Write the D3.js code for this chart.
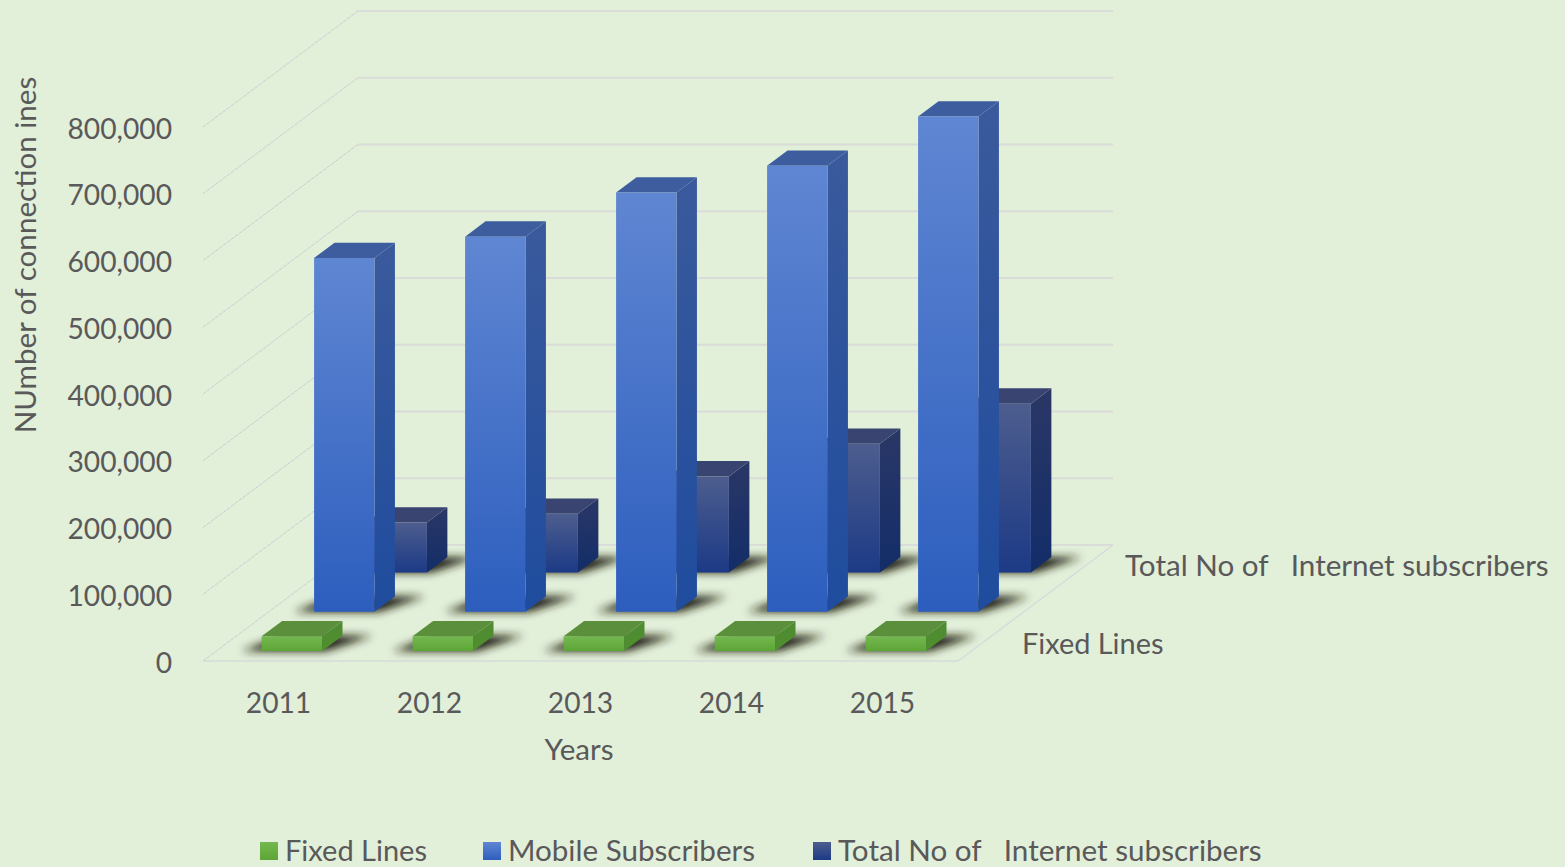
<!DOCTYPE html>
<html>
<head>
<meta charset="utf-8">
<script src="https://cdn.jsdelivr.net/npm/d3@7"></script>
<style>
  html, body { margin: 0; padding: 0; background: #e2efd9; overflow: hidden; }
  text { font-family: Lato, "Open Sans", sans-serif; fill: #595959; }
</style>
</head>
<body>
<svg id="chart" width="1565" height="867"></svg>
<script>
const years = ["2011", "2012", "2013", "2014", "2015"]
const seriesNames = ["Fixed Lines", "Mobile Subscribers", "Total No of   Internet subscribers"]
const fixedLines = [22000, 22000, 22000, 22000, 22000]
const mobileSubscribers = [530000, 562000, 628000, 668000, 742000]
const internetSubscribers = [75000, 88000, 144000, 193000, 253000]
const yTicks = [0, 100000, 200000, 300000, 400000, 500000, 600000, 700000, 800000]
const depthLabels = ["Fixed Lines", "Total No of   Internet subscribers"]

const seriesValues = [fixedLines, mobileSubscribers, internetSubscribers]
const tickFont = 28.2
const labelFont = 29.6

const svg = d3.select('#chart')
const defs = svg.append('defs')

// front plane scales
const x = d3.scaleBand().domain(years).range([203, 958]).paddingInner(0.6).paddingOuter(0.3)
const y = d3.scaleLinear().domain([0, 800000]).range([661, 127])

// depth goes from the front of the floor (0) to the back wall (1)
const depth = d3.scaleBand().domain(seriesNames).range([0, 1]).paddingInner(0.61).paddingOuter(0.283).align(0.45)
const depthX = d3.scaleLinear().domain([0, 1]).range([0, 155])
const depthY = d3.scaleLinear().domain([0, 1]).range([0, -116])

const project = (px, value, d) => [px + depthX(d), y(value) + depthY(d)]
const line = d3.line()

// gradients, one per face and series
const faceColors = {
  fixed: { front: ['#74b84f', '#5da536'], side: ['#4f8b33', '#4f8f2e'], top: ['#5b8f3c', '#5b8f3c'] },
  mobile: { front: ['#5f86d2', '#2d5ebe'], side: ['#3a5a9c', '#1f4c9e'], top: ['#3d5d9f', '#3d5d9f'] },
  internet: { front: ['#4d5d8e', '#1c3a86'], side: ['#2a3766', '#132d69'], top: ['#394470', '#394470'] }
}
const seriesKeys = ['fixed', 'mobile', 'internet']

seriesKeys.forEach(k => {
  ['front', 'side', 'top'].forEach(face => {
    const g = defs.append('linearGradient')
      .attr('id', k + '-' + face)
      .attr('x1', 0).attr('y1', 0).attr('x2', 0).attr('y2', 1)
    g.append('stop').attr('offset', '0%').attr('stop-color', faceColors[k][face][0])
    g.append('stop').attr('offset', '100%').attr('stop-color', faceColors[k][face][1])
  })
})

defs.append('filter').attr('id', 'soft')
  .attr('x', '-30%').attr('y', '-60%').attr('width', '160%').attr('height', '220%')
  .append('feGaussianBlur').attr('stdDeviation', 4)

// walls and floor gridlines
const grid = svg.append('g').attr('fill', 'none')

grid.selectAll('.side-line')
  .data(yTicks)
  .enter()
  .append('path')
  .attr('class', 'side-line')
  .attr('d', v => line([project(203, v, 0), project(203, v, 1)]))
  .attr('stroke', '#c4cfd6')
  .attr('stroke-dasharray', '4 1')
  .attr('stroke-width', 1)

grid.selectAll('.back-line')
  .data(yTicks)
  .enter()
  .append('path')
  .attr('class', 'back-line')
  .attr('d', v => line([project(203, v, 1), project(958, v, 1)]))
  .attr('stroke', '#d9dcd8')
  .attr('stroke-width', 2)

grid.append('path')
  .attr('d', line([project(203, 0, 0), project(958, 0, 0), project(958, 0, 1)]))
  .attr('stroke', '#d6dcd8')
  .attr('stroke-width', 1.5)

// bars from back to front so nearer ones cover the others
const bars = svg.append('g')

d3.range(seriesNames.length - 1, -1, -1).forEach(s => {
  const d0 = depth(seriesNames[s])
  const d1 = d0 + depth.bandwidth()
  const key = seriesKeys[s]

  years.forEach((year, i) => {
    const x0 = x(year)
    const x1 = x0 + x.bandwidth()
    const v = seriesValues[s][i]
    const g = bars.append('g')

    // floor shadow
    g.append('path')
      .attr('d', line([project(x0 - 20, 0, d0), project(x1 + 4, 0, d0), project(x1 + 30, 0, d1), project(x0, 0, d1)]) + 'Z')
      .attr('fill', '#1d1d10')
      .attr('filter', 'url(#soft)')

    g.append('path')
      .attr('d', line([project(x1, 0, d0), project(x1, 0, d1), project(x1, v, d1), project(x1, v, d0)]) + 'Z')
      .attr('fill', `url(#${key}-side)`)

    g.append('path')
      .attr('d', line([project(x0, v, d0), project(x1, v, d0), project(x1, v, d1), project(x0, v, d1)]) + 'Z')
      .attr('fill', `url(#${key}-top)`)

    g.append('path')
      .attr('d', line([project(x0, 0, d0), project(x1, 0, d0), project(x1, v, d0), project(x0, v, d0)]) + 'Z')
      .attr('fill', `url(#${key}-front)`)
  })
})

// axes
const yAxis = svg.append('g')
  .attr('transform', 'translate(175,2)')
  .call(d3.axisLeft(y).tickValues(yTicks).tickFormat(d3.format(',')).tickSize(0))
yAxis.select('.domain').remove()

const xAxis = svg.append('g')
  .attr('transform', 'translate(0,683)')
  .call(d3.axisBottom(x).tickSize(0))
xAxis.select('.domain').remove()

svg.selectAll('.tick text')
  .attr('font-size', tickFont)
  .style('font-family', 'Lato, "Open Sans", sans-serif')
  .style('fill', '#595959')

xAxis.selectAll('.tick text').attr('dy', 0).attr('y', 30)

// labels along the depth axis
svg.selectAll('.depth-label')
  .data(depthLabels)
  .enter()
  .append('text')
  .attr('class', 'depth-label')
  .attr('x', d => (d === depthLabels[0] ? 1022 : 1125))
  .attr('y', d => project(958, 0, depth(d) + depth.bandwidth() / 2)[1] + 11)
  .attr('font-size', d => (d === depthLabels[0] ? 28.9 : labelFont))
  .style('white-space', 'pre')
  .text(d => d)

// axis titles
svg.append('text')
  .attr('transform', 'translate(36,255) rotate(-90)')
  .attr('text-anchor', 'middle')
  .attr('font-size', labelFont)
  .text('NUmber of connection ines')

svg.append('text')
  .attr('x', 579)
  .attr('y', 760)
  .attr('text-anchor', 'middle')
  .attr('font-size', labelFont)
  .text('Years')

// legend
const legendX = [260, 483, 813]
const legendFont = [29, 29.6, 29.6]
const legend = svg.append('g')
  .selectAll('g')
  .data(seriesNames)
  .enter()
  .append('g')
  .attr('transform', (d, i) => `translate(${legendX[i]},842)`)

legend.append('rect')
  .attr('width', 18)
  .attr('height', 18)
  .attr('fill', (d, i) => `url(#${seriesKeys[i]}-front)`)

legend.append('text')
  .attr('x', 25)
  .attr('y', 19)
  .attr('font-size', (d, i) => legendFont[i])
  .style('white-space', 'pre')
  .text(d => d)
</script>
</body>
</html>
